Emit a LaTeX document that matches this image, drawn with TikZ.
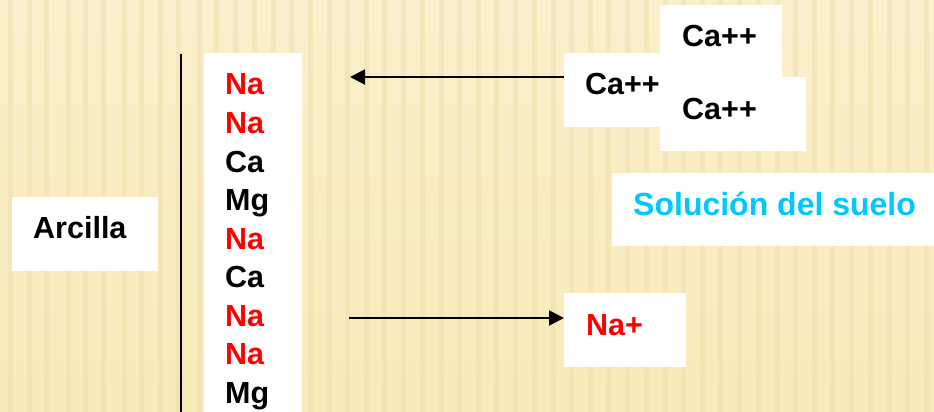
\documentclass[tikz,border=0pt]{standalone}
\usepackage{fontspec}
\setmainfont{Liberation Sans}
\usetikzlibrary{arrows.meta}
\definecolor{bgcol}{RGB}{248,234,185}
\definecolor{bgtop}{RGB}{251,240,205}
\definecolor{stripe}{RGB}{236,216,160}
\definecolor{nared}{RGB}{255,0,0}
\definecolor{solcyan}{RGB}{0,200,255}
\tikzset{
  whitebox/.style={fill=white, draw=none, inner sep=0pt, rectangle},
  lbl/.style={inner sep=0pt, anchor=base west, font=\fontsize{30.5}{36}\selectfont\bfseries},
  redlbl/.style={lbl, text=nared},
  blacklbl/.style={lbl, text=black},
  flowarrow/.style={line width=2pt, -{Triangle[length=15pt,width=15pt]}},
}
\begin{document}
\begin{tikzpicture}[x=1pt,y=-1pt]
\useasboundingbox (0,0) rectangle (934,412);
% background
\shade[top color=bgtop, bottom color=bgcol] (0,0) rectangle (934,412);
\foreach \sx in {8,27,44,66,83,101,122,139,158,176,197,214,233,252,271,289,308,327,345,364,382,401,420,439,457,476,494,513,532,551,569,588,606,625,644,663,681,700,718,737,756,775,793,812,830,849,868,887,905,924}{
  \fill[stripe, opacity=0.35] (\sx,0) rectangle (\sx+5,412);
}
% boxes
\node[whitebox, minimum width=98pt, minimum height=359pt] (col) at (253,232.5) {};
\node[whitebox, minimum width=146pt, minimum height=74pt] (arcbox) at (85,234) {};
\node[whitebox, minimum width=136pt, minimum height=74pt] (camid) at (632,90) {};
\node[whitebox, minimum width=122pt, minimum height=72pt] (catop) at (721,41) {};
\node[whitebox, minimum width=146pt, minimum height=74pt] (calow) at (733,114) {};
\node[whitebox, minimum width=322pt, minimum height=73pt] (solbox) at (773,209.5) {};
\node[whitebox, minimum width=122pt, minimum height=74pt] (nabox) at (625,330) {};
% vertical line
\coordinate (vtop) at (181,54);
\coordinate (vbot) at (181,412);
\draw[line width=2.5pt] (vtop) -- (vbot);
% column texts
\node[redlbl]   (c1) at (225,95)    {Na};
\node[redlbl]   (c2) at (225,133.5) {Na};
\node[blacklbl] (c3) at (225,172)   {Ca};
\node[blacklbl] (c4) at (225,210.5) {Mg};
\node[redlbl]   (c5) at (225,249)   {Na};
\node[blacklbl] (c6) at (225,287.5) {Ca};
\node[redlbl]   (c7) at (225,326)   {Na};
\node[redlbl]   (c8) at (225,364.5) {Na};
\node[blacklbl] (c9) at (225,403)   {Mg};
% other texts
\node[blacklbl] (arcilla) at (33,238) {Arcilla};
\node[blacklbl] (tcatop) at (682,47) {Ca++};
\node[blacklbl] (tcamid) at (585,95) {Ca++};
\node[blacklbl] (tcalow) at (682,119) {Ca++};
\node[lbl, text=solcyan, font=\fontsize{32}{38}\selectfont\bfseries] (tsol) at (633,215) {Solución del suelo};
\node[redlbl] (tna) at (586,335) {Na+};
% arrows
\coordinate (a1s) at (564,77);
\coordinate (a1e) at (350,77);
\draw[flowarrow] (a1s) -- (a1e);
\coordinate (a2s) at (349,318);
\coordinate (a2e) at (564,318);
\draw[flowarrow] (a2s) -- (a2e);
\end{tikzpicture}
\end{document}
